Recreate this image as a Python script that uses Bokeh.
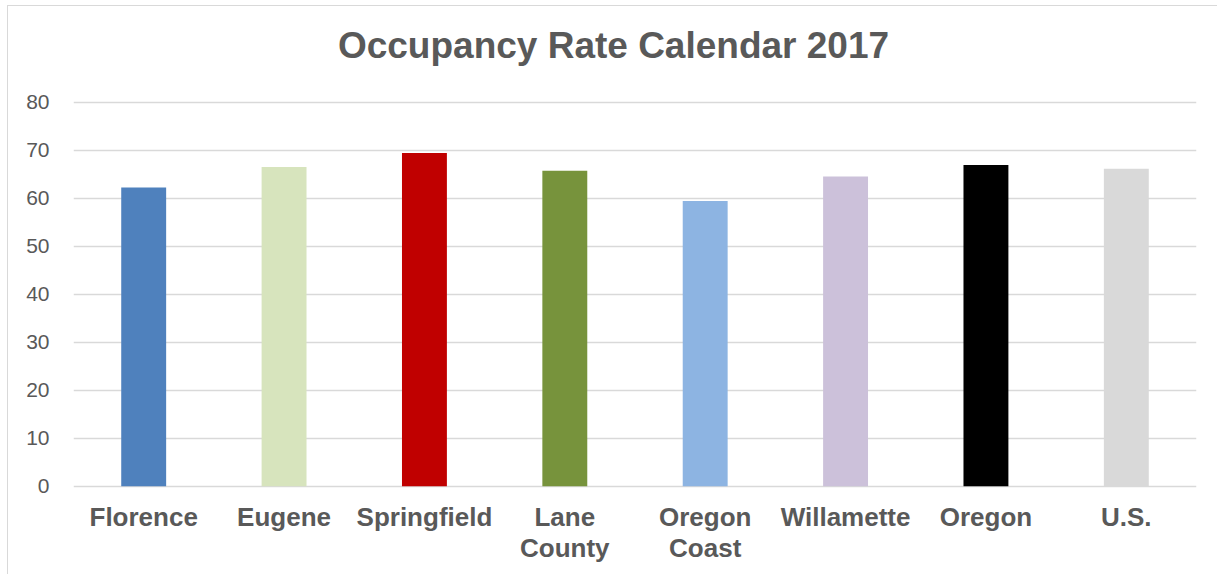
from bokeh.plotting import figure
from bokeh.models import ColumnDataSource, FactorRange, Range1d, FixedTicker, Label
from bokeh.core.properties import value
from bokeh.embed import file_html
from bokeh.resources import INLINE

# ---- data ----
title_text = "Occupancy Rate Calendar 2017"
categories = ["Florence", "Eugene", "Springfield", "Lane County",
              "Oregon Coast", "Willamette", "Oregon", "U.S."]
occupancy = [62.2, 66.5, 69.4, 65.7, 59.4, 64.5, 66.9, 66.1]
bar_colors = ["#4F81BD", "#D7E4BD", "#C00000", "#77933C",
              "#8DB4E2", "#CCC1DA", "#000000", "#D9D9D9"]
tick_labels = ["Florence", "Eugene", "Springfield", "Lane\nCounty",
               "Oregon\nCoast", "Willamette", "Oregon", "U.S."]
y_ticks = [0, 10, 20, 30, 40, 50, 60, 70, 80]

TEXT = "#595959"
GRID = "#D9D9D9"
FONT = "Liberation Sans"

source = ColumnDataSource(dict(cat=categories, val=occupancy, color=bar_colors,
                               label=tick_labels, base=[0] * len(categories)))

# the frame extends above 80 and below 0 so that the title and the
# category labels can be drawn inside it
p = figure(
    x_range=FactorRange(*categories, range_padding=0),
    y_range=Range1d(-18.6, 99.9),
    width=1210, height=569,
    output_backend="svg", toolbar_location=None,
    min_border_left=65, min_border_right=22,
    min_border_top=0, min_border_bottom=0,
    styles={"margin-left": "7px", "margin-top": "5px",
            "border-left": "1px solid #D9D9D9", "border-top": "1px solid #D9D9D9"},
)

p.vbar(x="cat", top="val", width=0.32, fill_color="color", line_color=None, source=source)

# category labels (two-line where needed)
p.text(x="cat", y="base", text="label", source=source,
       y_offset=16, text_align="center", text_baseline="top",
       text_font=value(FONT), text_font_size="26px", text_font_style="bold",
       text_color=TEXT, text_line_height=1.03)

# chart title
title = Label(x=540, x_units="screen", y=91.8, y_units="data",
              text=title_text, text_align="center", text_baseline="alphabetic",
              text_font=FONT, text_font_size="37px", text_font_style="bold",
              text_color=TEXT)
p.add_layout(title)

# grid / outline
p.outline_line_color = None
p.xgrid.grid_line_color = None
p.ygrid.grid_line_color = GRID
p.ygrid.grid_line_width = 1.5
p.background_fill_color = "white"
p.border_fill_color = "white"

# y axis
p.yaxis.ticker = FixedTicker(ticks=y_ticks)
p.yaxis.axis_line_color = None
p.yaxis.major_tick_line_color = None
p.yaxis.minor_tick_line_color = None
p.yaxis.major_label_text_font = FONT
p.yaxis.major_label_text_font_size = "21px"
p.yaxis.major_label_text_color = TEXT
p.yaxis.major_label_standoff = 18

p.xaxis.visible = False

open("out.html", "w").write(file_html(p, INLINE))
